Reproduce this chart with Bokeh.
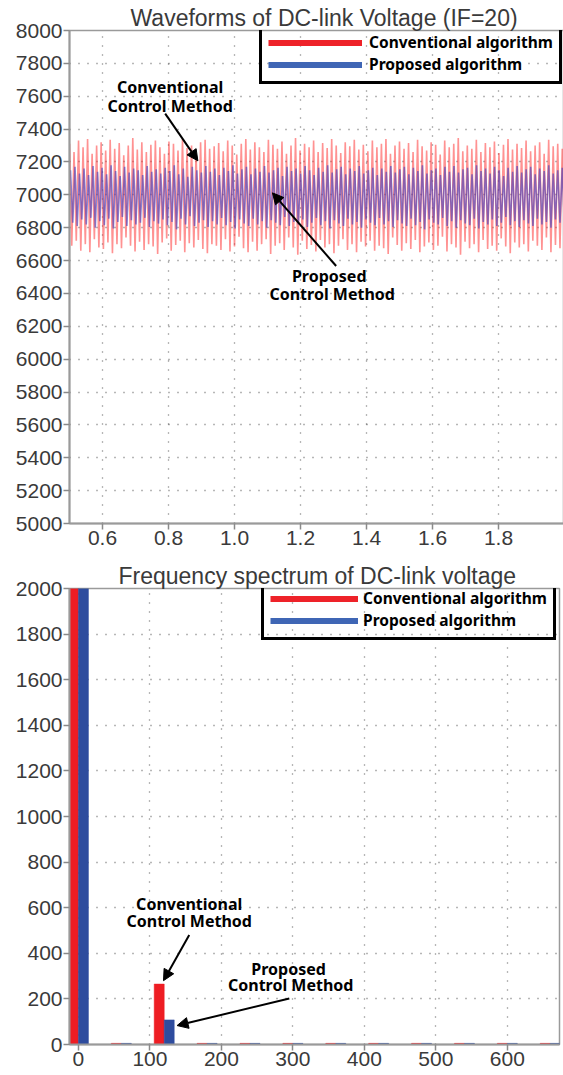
import numpy as np
from bokeh.plotting import figure
from bokeh.layouts import column
from bokeh.models import (FixedTicker, Legend, LegendItem, Label, Arrow,
                          NormalHead, Range1d, ColumnDataSource)
from bokeh.embed import file_html
from bokeh.resources import INLINE

# ---------------- data ----------------
t_start, t_end = 0.5, 2.0

red_peaks = [
    7310, 7260, 7330, 7290, 7340, 7250, 7300, 7320, 7270, 7335,
    7280, 7315, 7240, 7300, 7345, 7275, 7320, 7260, 7305, 7330,
    7290, 7250, 7325, 7310, 7270, 7340, 7285, 7300, 7255, 7320,
    7335, 7280, 7295, 7315, 7265, 7330, 7300, 7245, 7310, 7340,
    7275, 7320, 7290, 7260, 7335, 7305, 7280, 7325, 7250, 7300,
    7345, 7270, 7310, 7290, 7330, 7260, 7315, 7285, 7340, 7300,
    7255, 7320, 7295, 7335, 7275, 7305, 7265, 7330, 7290, 7310,
    7340, 7250, 7300, 7325, 7280, 7315, 7260, 7335, 7295, 7270,
    7320, 7305, 7245, 7330, 7290, 7310, 7345, 7265, 7300, 7280,
    7335, 7260, 7315, 7290, 7325, 7255, 7305, 7340, 7275, 7310,
    7285, 7330, 7265, 7300, 7320, 7250, 7335, 7295, 7310, 7280]
red_troughs = [
    6690, 6720, 6660, 6700, 6650, 6730, 6680, 6670, 6710, 6645,
    6700, 6675, 6740, 6690, 6655, 6715, 6665, 6700, 6685, 6640,
    6710, 6735, 6660, 6695, 6720, 6650, 6705, 6680, 6725, 6670,
    6645, 6700, 6690, 6665, 6730, 6655, 6685, 6745, 6675, 6650,
    6715, 6660, 6700, 6730, 6640, 6690, 6705, 6665, 6740, 6680,
    6635, 6720, 6670, 6695, 6655, 6725, 6680, 6700, 6645, 6690,
    6730, 6665, 6700, 6650, 6715, 6685, 6720, 6660, 6690, 6675,
    6640, 6740, 6695, 6660, 6705, 6670, 6725, 6650, 6685, 6710,
    6665, 6690, 6745, 6655, 6700, 6680, 6635, 6715, 6675, 6700,
    6650, 6725, 6670, 6690, 6660, 6735, 6685, 6645, 6710, 6680,
    6700, 6655, 6720, 6690, 6665, 6740, 6650, 6695, 6675, 6705]
blue_peaks = [
    7150, 7170, 7130, 7160, 7120, 7175, 7140, 7165, 7125, 7180,
    7145, 7115, 7170, 7135, 7160, 7150, 7120, 7175, 7140, 7155,
    7130, 7165, 7145, 7180, 7125, 7160, 7110, 7170, 7150, 7135,
    7175, 7140, 7160, 7120, 7165, 7145, 7180, 7130, 7155, 7170,
    7125, 7160, 7140, 7175, 7135, 7150, 7165, 7115, 7170, 7145,
    7160, 7130, 7175, 7150, 7120, 7165, 7140, 7180, 7135, 7155,
    7170, 7125, 7160, 7145, 7175, 7130, 7150, 7165, 7120, 7160,
    7140, 7175, 7135, 7155, 7170, 7125, 7165, 7145, 7180, 7130,
    7150, 7160, 7120, 7170, 7140, 7175, 7135, 7155, 7165, 7125,
    7180, 7145, 7160, 7130, 7170, 7150, 7115, 7165, 7140, 7175,
    7135, 7155, 7170, 7125, 7160, 7145, 7180, 7130, 7150, 7165]
blue_troughs = [
    6830, 6810, 6850, 6820, 6860, 6800, 6840, 6815, 6855, 6795,
    6835, 6865, 6810, 6845, 6820, 6830, 6860, 6805, 6840, 6825,
    6850, 6815, 6835, 6790, 6855, 6820, 6870, 6810, 6830, 6845,
    6805, 6840, 6820, 6860, 6815, 6835, 6795, 6850, 6825, 6810,
    6855, 6820, 6840, 6800, 6845, 6830, 6815, 6865, 6810, 6835,
    6820, 6850, 6805, 6830, 6860, 6815, 6840, 6795, 6845, 6825,
    6810, 6855, 6820, 6835, 6800, 6850, 6830, 6815, 6860, 6820,
    6840, 6805, 6845, 6825, 6810, 6855, 6815, 6835, 6790, 6850,
    6830, 6820, 6860, 6810, 6840, 6800, 6845, 6825, 6815, 6855,
    6795, 6835, 6820, 6850, 6810, 6830, 6865, 6815, 6840, 6805,
    6845, 6825, 6810, 6855, 6820, 6835, 6800, 6850, 6830, 6815]

spec_freq = [0, 60, 120, 180, 240, 300, 360, 420, 480, 540, 600, 660]
spec_conv = [7000, 5, 265, 5, 5, 5, 5, 5, 5, 5, 5, 5]
spec_prop = [7000, 5, 108, 5, 5, 5, 5, 5, 5, 5, 5, 5]

top_yticks = list(range(5000, 8001, 200))
top_xticks = [0.6, 0.8, 1.0, 1.2, 1.4, 1.6, 1.8]
top_xlabels = ["0.6", "0.8", "1.0", "1.2", "1.4", "1.6", "1.8"]
bot_yticks = list(range(0, 2001, 200))
bot_xticks = [0, 100, 200, 300, 400, 500, 600]

legend_labels = ["Conventional algorithm", "Proposed algorithm"]

# ---------------- style ----------------
RED_W = "#ff2626"
BLUE_W = "#3a3cc0"
RED_BAR = "#ee1d23"
BLUE_BAR = "#2e4c9e"
RED_LEG = "#ee2229"
BLUE_LEG = "#3f66b5"
TICK_FONT = "Liberation Sans"
ANN_FONT = "Noto Sans"


def style(p, title, title_offset):
    p.title.text = title
    p.title.align = "left"
    p.title.offset = title_offset
    p.title.text_font = TICK_FONT
    p.title.text_font_size = "23px"
    p.title.text_font_style = "normal"
    p.title.text_color = "#3a3a3a"
    p.title.standoff = 0
    p.outline_line_color = "#9a9a9a"
    p.outline_line_width = 1.5
    p.background_fill_color = "white"
    p.border_fill_color = "white"
    for ax in (p.xaxis[0], p.yaxis[0]):
        ax.axis_line_color = "#9a9a9a"
        ax.axis_line_width = 2
        ax.major_tick_line_color = "#8a8a8a"
        ax.major_tick_line_width = 1.5
        ax.major_tick_out = 6
        ax.major_tick_in = 0
        ax.minor_tick_line_color = None
        ax.major_label_text_font = TICK_FONT
        ax.major_label_text_font_size = "21px"
        ax.major_label_text_color = "#3a3a3a"
        ax.major_label_standoff = 1
    p.grid.grid_line_color = "#555555"
    p.grid.grid_line_dash = "1 8"
    p.grid.grid_line_width = 1.3
    p.grid.grid_line_alpha = 0.85


def add_legend(p, x, y, glyph_w, standoff, spacing):
    r1 = p.line([np.nan], [np.nan], line_color=RED_LEG, line_width=6)
    r2 = p.line([np.nan], [np.nan], line_color=BLUE_LEG, line_width=6)
    leg = Legend(items=[LegendItem(label=legend_labels[0], renderers=[r1]),
                        LegendItem(label=legend_labels[1], renderers=[r2])],
                 location=(x, y))
    leg.border_line_color = "black"
    leg.border_line_alpha = 1.0
    leg.border_line_width = 3
    leg.background_fill_alpha = 0
    leg.padding = 6
    leg.spacing = spacing
    leg.margin = 0
    leg.label_height = 17
    leg.glyph_height = 17
    leg.glyph_width = glyph_w
    leg.label_standoff = standoff
    leg.label_text_font = ANN_FONT
    leg.label_text_font_style = "bold"
    leg.label_text_font_size = "15.5px"
    leg.label_text_color = "black"
    p.add_layout(leg)


def ann(p, x, y, text):
    p.add_layout(Label(x=x, y=y, text=text, text_align="center",
                       text_baseline="middle", text_font=ANN_FONT,
                       text_font_style="bold", text_font_size="16px",
                       text_color="black"))


def arrow(p, x0, y0, x1, y1):
    p.add_layout(Arrow(end=NormalHead(size=11, fill_color="black",
                                      line_color="black"),
                       x_start=x0, y_start=y0, x_end=x1, y_end=y1,
                       line_color="black", line_width=2))


# ---------------- top: waveform ----------------
p1 = figure(frame_width=495, frame_height=493, output_backend="svg",
            toolbar_location=None, x_range=Range1d(0.5, 2.0),
            y_range=Range1d(5000, 8000))
p1.min_border_left = 69
p1.min_border_right = 0
p1.min_border_top = 30
p1.min_border_bottom = 30
style(p1, "Waveforms of DC-link Voltage (IF=20)", 61)
p1.xaxis.ticker = FixedTicker(ticks=top_xticks)
p1.xaxis.major_label_overrides = {t: s for t, s in zip(top_xticks, top_xlabels)}
p1.yaxis.ticker = FixedTicker(ticks=top_yticks)

red_y = [v for pair in zip(red_peaks, red_troughs) for v in pair]
blue_y = [v for pair in zip(blue_peaks, blue_troughs) for v in pair]
red_t = np.linspace(t_start, t_end, len(red_y))
blue_t = np.linspace(t_start + 0.003, t_end, len(blue_y))
p1.line(red_t, red_y, line_color=RED_W, line_width=1.6, line_alpha=0.5)
p1.line(blue_t, blue_y, line_color=BLUE_W, line_width=1.6, line_alpha=0.6)

add_legend(p1, 190, 439, 94, 7, -4)

ann(p1, 0.805, 7659, "Conventional")
ann(p1, 0.805, 7543, "Control Method")
arrow(p1, 0.79, 7494, 0.889, 7207)
ann(p1, 1.287, 6506, "Proposed")
ann(p1, 1.296, 6396, "Control Method")
arrow(p1, 1.308, 6567, 1.115, 7012)

# ---------------- bottom: spectrum ----------------
p2 = figure(frame_width=490, frame_height=456, output_backend="svg",
            toolbar_location=None, x_range=Range1d(-12.5, 673),
            y_range=Range1d(0, 2000))
p2.min_border_left = 68
p2.min_border_right = 5
p2.min_border_top = 35
p2.min_border_bottom = 28
style(p2, "Frequency spectrum of DC-link voltage", 49)
p2.xaxis.ticker = FixedTicker(ticks=bot_xticks)
p2.yaxis.ticker = FixedTicker(ticks=bot_yticks)

src = ColumnDataSource(dict(
    xc=[f - 7 for f in spec_freq], xp=[f + 7 for f in spec_freq],
    conv=spec_conv, prop=spec_prop))
p2.vbar(x="xc", top="conv", bottom=0, width=14, source=src,
        fill_color=RED_BAR, line_color=RED_BAR, line_width=0.5)
p2.vbar(x="xp", top="prop", bottom=0, width=14, source=src,
        fill_color=BLUE_BAR, line_color=BLUE_BAR, line_width=0.5)

add_legend(p2, 192, 404, 88, 5, -6)

ann(p2, 155, 616, "Conventional")
ann(p2, 155, 541, "Control Method")
arrow(p2, 155, 480, 119, 280)
ann(p2, 294, 333, "Proposed")
ann(p2, 297, 259, "Control Method")
arrow(p2, 295, 202, 138, 83)

layout = column(p1, p2, spacing=0)
open("out.html", "w").write(file_html(layout, INLINE))
